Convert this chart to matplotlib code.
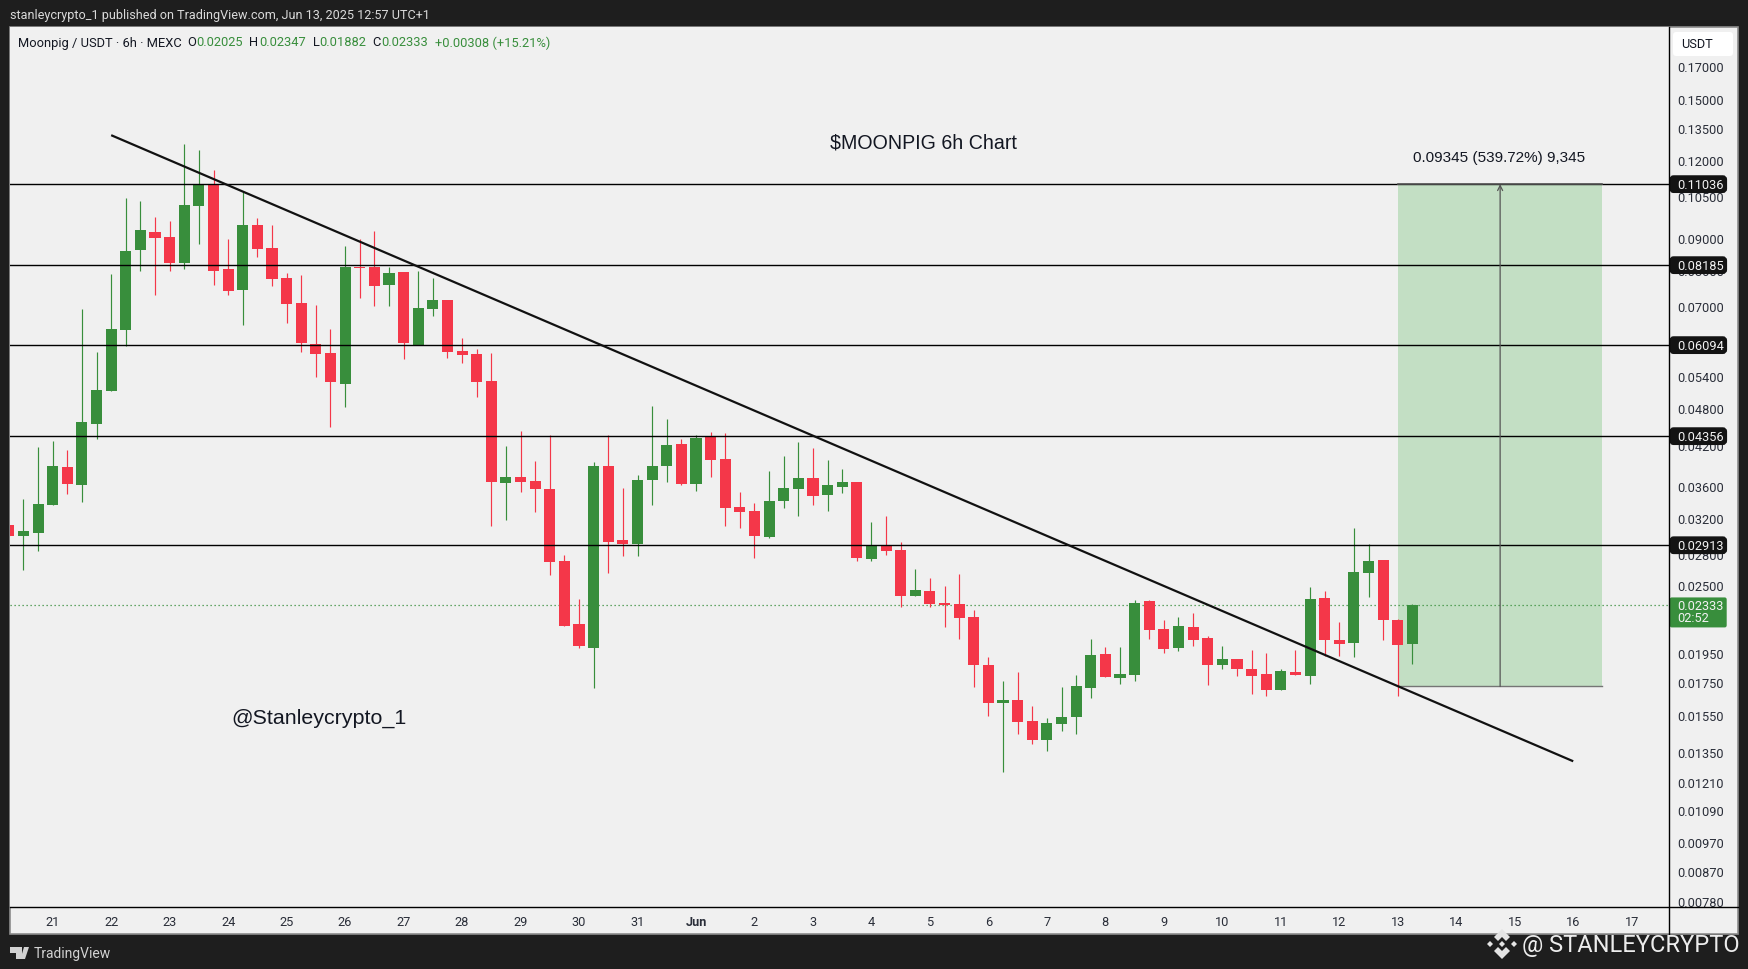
import matplotlib
matplotlib.use("Agg")
import matplotlib.pyplot as plt
from matplotlib.lines import Line2D
from matplotlib.patches import FancyBboxPatch, Polygon, Rectangle
from matplotlib.transforms import IdentityTransform, ScaledTranslation

plt.rcParams['font.family'] = ['Roboto', 'DejaVu Sans']

# 6h candles, first one is 18:00 the day before May 20/21 (index -3)
opens = [.03137, .03012, .03046, .03378, .03886, .03636, .04554, .05143, .06442, .08653,
         .09248, .09080, .08249, .10181, .11001, .08068, .07466, .09491, .08718, .07805,
         .07118, .06118, .05918, .05278, .08128, .08128, .07606, .07980, .06096, .06961,
         .07196, .05961, .05897, .05337, .03662, .03745, .03690, .03582, .02747, .02177,
         .01992, .03900, .02968, .02925, .03703, .03900, .04230, .03649, .04341, .04002,
         .03352, .03303, .03001, .03427, .03582, .03731, .03506, .03609, .03676, .02768,
         .02903, .02860, .02413, .02458, .02352, .02343, .02234, .01871, .01626, .01644,
         .01522, .01419, .01505, .01544, .01719, .01948, .01783, .01803, .02369, .02137,
         .01992, .02153, .02067, .01871, .01913, .01844, .01810, .01706, .01824, .01797,
         .02396, .02052, .02029, .02628, .02757, .02209, .02025]
highs = [.03137, .03453, .04184, .04277, .04137, .06961, .05940, .07921, .10485, .10369,
         .09775, .09631, .12798, .12515, .11625, .09013, .10759, .09739, .09491, .07951,
         .07892, .07065, .06466, .08783, .09013, .09282, .08128, .07980, .08009, .07805,
         .07196, .06255, .06005, .05918, .04199, .04438, .03972, .04373, .02808, .02387,
         .03958, .04373, .03596, .03773, .04867, .04638, .04308, .04373, .04422, .04405,
         .03544, .03403, .03828, .04047, .04261, .04168, .03987, .03856, .03676, .03172,
         .03243, .02946, .02667, .02579, .02504, .02618, .02292, .01927, .01764, .01824,
         .01609, .01539, .01725, .01803, .02060, .01999, .01999, .02378, .02378, .02209,
         .02234, .02267, .02082, .02007, .01913, .01977, .01955, .01844, .01977, .02494,
         .02458, .02193, .03102, .02925, .02757, .02217, .02347]
lows = [.03012, .02657, .02850, .03378, .03519, .03415, .04308, .05143, .06073, .08009,
        .07331, .08009, .08068, .08849, .07606, .07331, .06563, .08434, .07578, .06612,
        .05940, .05417, .04504, .04849, .07250, .07039, .07039, .05789, .06096, .06784,
        .05810, .05704, .05031, .03125, .03195, .03544, .03291, .02608, .02161, .01992,
        .01719, .02628, .02798, .02798, .03378, .03676, .03636, .03556, .03745, .03125,
        .03102, .02778, .02990, .03340, .03243, .03378, .03303, .03531, .02747, .02747,
        .02808, .02317, .02413, .02317, .02153, .02060, .01725, .01550, .01261, .01451,
        .01398, .01362, .01467, .01451, .01656, .01791, .01744, .01764, .02060, .01955,
        .01970, .02007, .01738, .01844, .01797, .01681, .01668, .01706, .01803, .01744,
        .01934, .01934, .01927, .02405, .02052, .01668, .01882]
closes = [.03012, .03068, .03390, .03900, .03649, .04588, .05162, .06466, .08622, .09316,
          .09047, .08249, .10218, .11001, .08009, .07439, .09491, .08686, .07776, .07092,
          .06140, .05897, .05317, .08128, .08098, .07578, .07951, .06140, .06987, .07196,
          .05940, .05875, .05317, .03676, .03745, .03676, .03582, .02737, .02161, .02007,
          .03900, .02946, .02925, .03703, .03900, .04215, .03649, .04324, .03987, .03340,
          .03291, .03012, .03427, .03596, .03731, .03494, .03636, .03676, .02778, .02903,
          .02850, .02413, .02467, .02343, .02335, .02226, .01871, .01626, .01644, .01516,
          .01419, .01511, .01544, .01732, .01941, .01791, .01810, .02352, .02129, .01984,
          .02161, .02052, .01871, .01913, .01844, .01797, .01706, .01830, .01803, .02387,
          .02052, .02022, .02637, .02747, .02209, .02015, .02333]
first_candle = -3

levels = [0.11036, 0.08185, 0.06094, 0.04356, 0.02913]
level_labels = ["0.11036", "0.08185", "0.06094", "0.04356", "0.02913"]
last_price = 0.02333

trend_x = [4, 104]
trend_y = [0.13220, 0.01313]

box_x = [92, 106]
box_y = [0.01730, 0.11036]
box_mid = 99

y_ticks = [0.17, 0.15, 0.135, 0.12, 0.105, 0.09, 0.08, 0.07, 0.06, 0.054, 0.048, 0.042, 0.036,
           0.032, 0.028, 0.025, 0.0195, 0.0175, 0.0155, 0.0135, 0.0121, 0.0109, 0.0097, 0.0087, 0.0078]
day_labels = ["21", "22", "23", "24", "25", "26", "27", "28", "29", "30", "31", "Jun", "2", "3", "4",
              "5", "6", "7", "8", "9", "10", "11", "12", "13", "14", "15", "16", "17"]

GREEN = "#388E3C"
RED = "#F43749"
BG = "#F0F0F0"
DARK = "#1E1E1E"
W, H = 1748, 970
AXIS_L, AXIS_R, AXIS_T, AXIS_B = 10, 1668.7, 27, 907
PANEL_R, PANEL_B = 1737.7, 934


def fx(x):
    return x / W


def fy(y):
    return 1 - (y + 1) / H


fig = plt.figure(figsize=(W / 100, H / 100), dpi=100, facecolor=DARK)

# light panel behind the chart and both axis strips
fig.add_artist(Rectangle((fx(AXIS_L), fy(PANEL_B)), fx(PANEL_R - AXIS_L), (PANEL_B - AXIS_T) / H,
                         transform=fig.transFigure, facecolor=BG, edgecolor="#8C8C8C", lw=1.2, zorder=-1))

ax = fig.add_axes([fx(AXIS_L), fy(AXIS_B), fx(AXIS_R - AXIS_L), (AXIS_B - AXIS_T) / H])
ax.set_facecolor(BG)
ax.set_yscale("log")
ax.set_xlim(-2.92, 110.53)
ax.set_ylim(0.00767, 0.19704)
ax.set_autoscale_on(False)

# target box goes under the candles
ax.add_patch(Rectangle((box_x[0], box_y[0]), box_x[1] - box_x[0], box_y[1] - box_y[0],
                       facecolor="#C3DFC4", edgecolor="none", zorder=1))
ax.plot([box_x[0], box_x[1]], [box_y[0], box_y[0]], color="#757575", lw=1.0, zorder=1.5)

ax.axhline(last_price, color=GREEN, lw=0.9, dashes=(1, 2.2), zorder=1.6)

# candles
for k in range(len(opens)):
    x = first_candle + k
    color = GREEN if closes[k] >= opens[k] else RED
    ax.vlines(x, lows[k], highs[k], color=color, lw=0.85, zorder=3)
    bottom = min(opens[k], closes[k])
    height = abs(closes[k] - opens[k])
    ax.bar(x, height, width=0.76, bottom=bottom, color=color, linewidth=0, zorder=3)

for level in levels:
    ax.axhline(level, color="black", lw=1.0, zorder=4)
ax.plot(box_x, [box_y[1], box_y[1]], color="#555555", lw=1.2, zorder=4.5)

ax.plot(trend_x, trend_y, color="#111111", lw=1.6, zorder=5, solid_capstyle="butt")

ax.annotate("", xy=(box_mid, box_y[1]), xytext=(box_mid, box_y[0]), zorder=5,
            arrowprops=dict(arrowstyle="->", color="#555555", lw=0.9, shrinkA=0, shrinkB=0, mutation_scale=9))

# axes
ax.yaxis.tick_right()
ax.set_yticks(y_ticks)
ax.set_yticklabels(["%.5f" % t for t in y_ticks])
ax.minorticks_off()
ax.set_xticks([4 * d for d in range(len(day_labels))])
ax.set_xticklabels(day_labels)
ax.tick_params(axis="y", length=0, pad=6, labelsize=9.2, labelcolor="#2A2E39")
ax.tick_params(axis="x", length=0, pad=5.5, labelsize=9.2, labelcolor="#2A2E39")
ax.get_xticklabels()[11].set_fontweight("bold")
# tick labels sit a little higher than the price they mark
up = ScaledTranslation(0, 1.5 / 100, fig.dpi_scale_trans)
for lab in ax.get_yticklabels():
    lab.set_transform(lab.get_transform() + up)
for side in ["top", "left", "right", "bottom"]:
    ax.spines[side].set_visible(False)
fig.add_artist(Line2D([fx(AXIS_L), fx(PANEL_R)], [fy(AXIS_B), fy(AXIS_B)], color="black", lw=1.0))
fig.add_artist(Line2D([fx(AXIS_R), fx(AXIS_R)], [fy(AXIS_T), fy(PANEL_B)], color="black", lw=1.0))

# price labels on the scale, drawn in screen pixels
for level, label in zip(levels, level_labels):
    py = ax.transData.transform((0, level))[1]
    ax.add_patch(FancyBboxPatch((AXIS_R + 2, py - 7.5), 55, 15, boxstyle="round,pad=0,rounding_size=3",
                                transform=IdentityTransform(), facecolor="#131313", edgecolor="#131313",
                                lw=2, clip_on=False, zorder=10))
    fig.text(fx(1677), py / H, label, color="#F2F2F2", fontsize=9.2, va="center", ha="left", zorder=11)

py = ax.transData.transform((0, last_price))[1]
ax.add_patch(FancyBboxPatch((AXIS_R + 1, py - 22), 57, 30, boxstyle="round,pad=0,rounding_size=2",
                            transform=IdentityTransform(), facecolor=GREEN, edgecolor="none",
                            clip_on=False, zorder=10))
fig.text(fx(1677), py / H, "0.02333", color="#F2F2F2", fontsize=9.2, va="center", ha="left", zorder=11)
fig.text(fx(1677), fy(618), "02:52", color="#F2F2F2", fontsize=9.2, va="center", ha="left", zorder=11)

fig.add_artist(FancyBboxPatch((1673, H - 57), 60, 24, boxstyle="round,pad=0,rounding_size=3",
                              transform=IdentityTransform(), facecolor="white", edgecolor="none"))
fig.text(fx(1681), fy(43.5), "USDT", color="#131722", fontsize=9.2, va="center", ha="left")

# header, legend row
fig.text(fx(10), fy(15), "stanleycrypto_1 published on TradingView.com, Jun 13, 2025 12:57 UTC+1",
         color="#DADADA", fontsize=9.1, va="center", ha="left")
legend_row = [(18, "Moonpig / USDT · 6h · MEXC", "#131722"),
              (187, "O", "#131722"), (196, "0.02025", GREEN),
              (249.5, "H", "#131722"), (259, "0.02347", GREEN),
              (312.7, "L", "#131722"), (319.6, "0.01882", GREEN),
              (372, "C", "#131722"), (381, "0.02333", GREEN),
              (434.7, "+0.00308 (+15.21%)", GREEN)]
for x, s, c in legend_row:
    fig.text(fx(x), fy(42), s, color=c, fontsize=9.3, va="center", ha="left")

# notes drawn on the chart
fig.text(fx(923), fy(142), r"\$MOONPIG 6h Chart", color="#131722", fontsize=14.1, va="center", ha="center",
         family=["Liberation Sans", "DejaVu Sans"])
fig.text(fx(231), fy(717), "@Stanleycrypto_1", color="#131722", fontsize=15.4, va="center", ha="left",
         family=["Liberation Sans", "DejaVu Sans"])
fig.text(fx(1499), fy(157), "0.09345 (539.72%) 9,345", color="#131722", fontsize=11, va="center", ha="center",
         family=["Liberation Sans", "DejaVu Sans"])

# footer
fig.text(fx(34), fy(953), "TradingView", color="#D2D2D2", fontsize=10, va="center", ha="left")
logo = [[(10, 947), (22, 947), (22, 959), (16, 959), (16, 953), (10, 953)],
        [(24, 947), (29, 947), (25, 959), (20.5, 959)]]
for pts in logo:
    fig.add_artist(Polygon([(fx(a), fy(b)) for a, b in pts], transform=fig.transFigure, facecolor="#D2D2D2", edgecolor="none"))

fig.text(fx(1522), fy(944.5), "@ STANLEYCRYPTO", color="#ECECEC", fontsize=17, va="center", ha="left", zorder=20)
cx, cy = 1502, 944
diamonds = [[(cx, cy - 15), (cx + 8, cy - 7), (cx + 4, cy - 3), (cx, cy - 7), (cx - 4, cy - 3), (cx - 8, cy - 7)],
            [(cx, cy + 15), (cx + 8, cy + 7), (cx + 4, cy + 3), (cx, cy + 7), (cx - 4, cy + 3), (cx - 8, cy + 7)],
            [(cx, cy - 3), (cx + 3, cy), (cx, cy + 3), (cx - 3, cy)],
            [(cx - 12, cy - 3), (cx - 9, cy), (cx - 12, cy + 3), (cx - 15, cy)],
            [(cx + 12, cy - 3), (cx + 15, cy), (cx + 12, cy + 3), (cx + 9, cy)]]
for pts in diamonds:
    fig.add_artist(Polygon([(fx(a), fy(b)) for a, b in pts], transform=fig.transFigure, facecolor="#E4E4E4", edgecolor="none", zorder=20))

fig.savefig("out.png", dpi=100, facecolor=DARK)
